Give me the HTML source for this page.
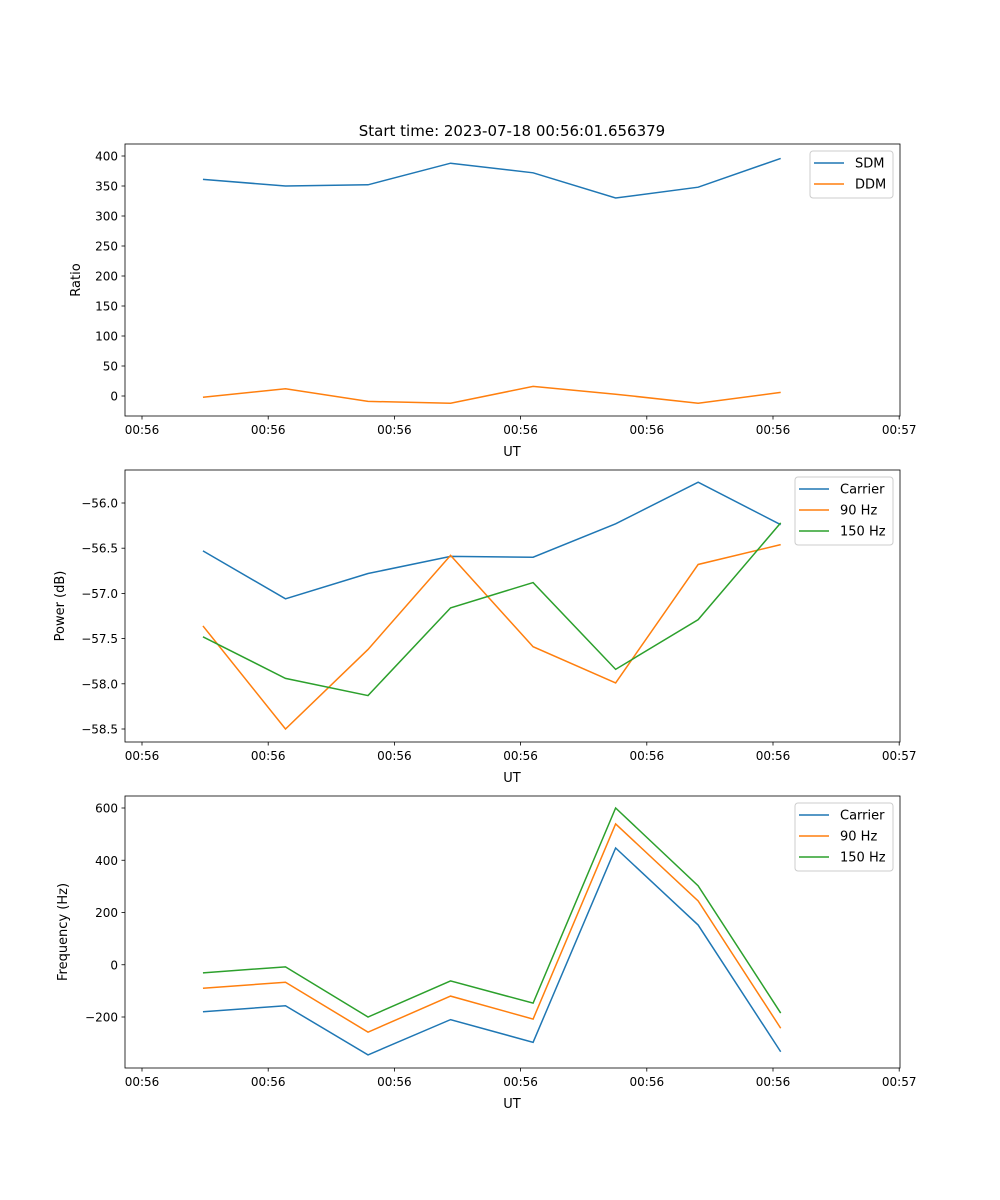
<!DOCTYPE html>
<html><head><meta charset="utf-8"><style>
body{margin:0;background:#fff}
svg{display:block;font-family:"DejaVu Sans","Liberation Sans",sans-serif}
</style></head><body>
<svg id="fig" width="1000" height="1200" xmlns="http://www.w3.org/2000/svg"></svg>
<script>
// data
const times = [0.483, 1.137, 1.791, 2.445, 3.099, 3.753, 4.407, 5.061];
const xTickVals = [0, 1, 2, 3, 4, 5, 6];
const xTickLabels = ["00:56","00:56","00:56","00:56","00:56","00:56","00:57"];
const sdm = [361, 350, 352, 388, 372, 330, 348, 396];
const ddm = [-2, 12, -9, -12, 16, 3, -12, 6];
const pwrCarrier = [-56.53, -57.06, -56.78, -56.59, -56.60, -56.23, -55.77, -56.24];
const pwr90 = [-57.36, -58.50, -57.62, -56.58, -57.59, -57.99, -56.68, -56.46];
const pwr150 = [-57.48, -57.94, -58.13, -57.16, -56.88, -57.84, -57.29, -56.22];
const frqCarrier = [-180, -157, -345, -210, -297, 447, 152, -333];
const frq90 = [-90, -67, -258, -120, -208, 539, 244, -243];
const frq150 = [-31, -8, -200, -62, -147, 600, 302, -185];
const ratioTicks = [0, 50, 100, 150, 200, 250, 300, 350, 400];
const pwrTicks = [-58.5, -58.0, -57.5, -57.0, -56.5, -56.0];
const frqTicks = [-200, 0, 200, 400, 600];

const NS = "http://www.w3.org/2000/svg";
const svg = document.getElementById('fig');
function el(tag, attrs, parent, text){
  const e = document.createElementNS(NS, tag);
  for (const k in attrs) e.setAttribute(k, attrs[k]);
  if (text !== undefined) e.textContent = text;
  (parent || svg).appendChild(e);
  return e;
}
const L = 125, R = 900;
const xs = t => 142 + t * 126.2;
const C = {blue:"#1f77b4", orange:"#ff7f0e", green:"#2ca02c"};

function panel(name, top, bot, v0, p0, v1, p1, yTicks, fmt, yLabel, series, legend){
  const g = el('g', {});
  
  
  const ys = v => p0 + (v - v0) * (p1 - p0) / (v1 - v0);
  // series
  series.forEach(s => {
    const p = el('polyline', {points: times.map((t,i)=>xs(t)+','+ys(s.vals[i])).join(' '), fill:'none', stroke:s.color, 'stroke-width':1.5}, g);
    
    
  });
  const fr = el('rect', {x:L, y:top, width:R-L, height:bot-top, fill:'none', stroke:'#000', 'stroke-width':0.8}, g);
  
  
  // x ticks
  xTickVals.forEach((v,i) => {
    const x = xs(v);
    el('line', {x1:x, x2:x, y1:bot, y2:bot+3.5, stroke:'#000', 'stroke-width':0.8}, g);
    const t = el('text', {x:x, y:bot+18, 'text-anchor':'middle', 'font-size':12}, g, xTickLabels[i]);
    
    
  });
  const xl = el('text', {x:512, y:bot+40, 'text-anchor':'middle', 'font-size':13}, g, 'UT');
  
  
  // y ticks
  yTicks.forEach(v => {
    const y = ys(v);
    el('line', {x1:L-3.5, x2:L, y1:y, y2:y, stroke:'#000', 'stroke-width':0.8}, g);
    const t = el('text', {x:L-7, y:y+4.5, 'text-anchor':'end', 'font-size':12}, g, fmt(v));
    
    
  });
  const yl = el('text', {x:0, y:0, 'text-anchor':'middle', 'font-size':13, transform:`translate(${yLabel.x},${(top+bot)/2}) rotate(-90)`}, g, yLabel.text);
  
  
  // legend
  const lg = el('g', {}, g);
  
  
  el('rect', {x:legend.x, y:top+7, width:R-7-legend.x, height:series.length*21+5, rx:3, fill:'#fff', 'fill-opacity':0.8, stroke:'#ccc'}, lg);
  series.forEach((s,i) => {
    const y = top + 19 + i*21;
    el('line', {x1:legend.x+4, x2:legend.x+34, y1:y, y2:y, stroke:s.color, 'stroke-width':1.5}, lg);
    const t = el('text', {x:legend.x+45, y:y+4.5, 'font-size':13}, lg, s.label);
    
    
  });
}

const minus = s => s.replace('-', '\u2212');
const title = el('text', {x:512, y:136, 'text-anchor':'middle', 'font-size':15}, svg, 'Start time: 2023-07-18 00:56:01.656379');



panel('ratio-panel', 144, 416, 400, 156, 0, 396, ratioTicks, v => String(v), {x:80, text:'Ratio'},
  [{key:'sdm', label:'SDM', vals:sdm, color:C.blue}, {key:'ddm', label:'DDM', vals:ddm, color:C.orange}], {x:810});
panel('power-panel', 470, 742, -56.0, 503, -58.5, 729, pwrTicks, v => minus(v.toFixed(1)), {x:64, text:'Power (dB)'},
  [{key:'carrier', label:'Carrier', vals:pwrCarrier, color:C.blue}, {key:'hz90', label:'90 Hz', vals:pwr90, color:C.orange}, {key:'hz150', label:'150 Hz', vals:pwr150, color:C.green}], {x:795});
panel('frequency-panel', 796, 1068, 600, 808, -200, 1017, frqTicks, v => minus(String(v)), {x:67, text:'Frequency (Hz)'},
  [{key:'carrier', label:'Carrier', vals:frqCarrier, color:C.blue}, {key:'hz90', label:'90 Hz', vals:frq90, color:C.orange}, {key:'hz150', label:'150 Hz', vals:frq150, color:C.green}], {x:795});
</script>
</body></html>
